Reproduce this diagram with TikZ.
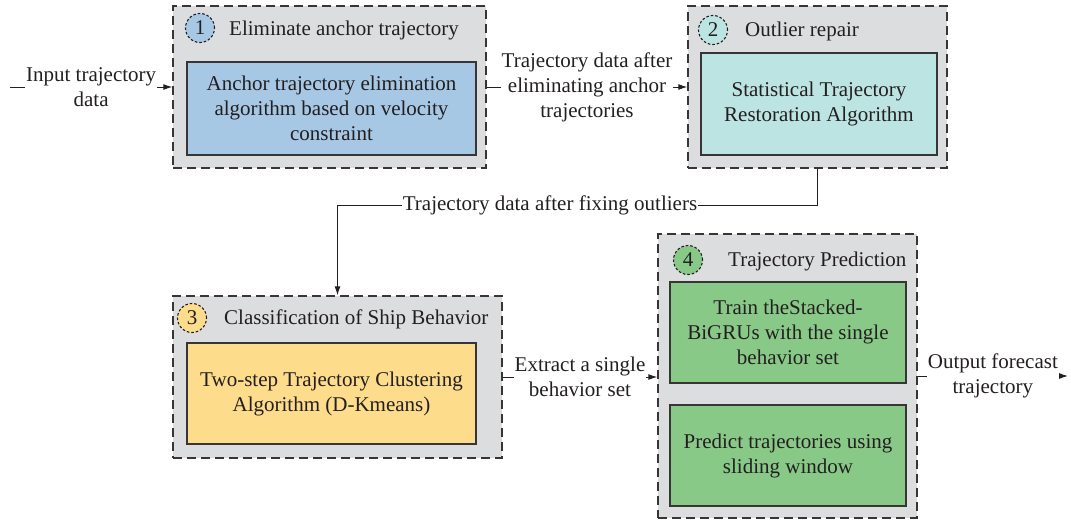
\documentclass[tikz,border=0pt]{standalone}
\usepackage{fontspec}
\setmainfont{Liberation Serif}
\usetikzlibrary{arrows.meta}
\definecolor{ink}{HTML}{231F20}
\definecolor{panel}{HTML}{DCDDDF}
\definecolor{cblue}{HTML}{A7C8E4}
\definecolor{ccyan}{HTML}{BCE4E2}
\definecolor{cyellow}{HTML}{FDDC8C}
\definecolor{cgreen}{HTML}{88C988}
\tikzset{
  every node/.style={font=\fontsize{21}{25}\selectfont, text=ink},
  stage/.style={draw=ink!90, fill=panel, line width=1.4pt,
    dash pattern=on 9pt off 5pt, inner sep=0pt},
  algo/.style={draw=ink!90, line width=1.4pt, inner sep=0pt, align=center},
  badge/.style={circle, draw=ink, dash pattern=on 2.5pt off 2pt, line width=1.1pt,
    minimum size=29pt, inner sep=0pt},
  title/.style={anchor=base west, inner sep=0pt},
  lab/.style={fill=white, inner sep=1pt, align=center},
  arr/.style={draw=ink, line width=1pt, -{Latex[length=9pt,width=6pt]}},
}
\begin{document}
\begin{tikzpicture}[x=1pt,y=-1pt]
\useasboundingbox (0,0) rectangle (1071,522);

% stage panels
\node[stage, minimum width=313, minimum height=162] (g1) at (329.5,87) {};
\node[stage, minimum width=259, minimum height=162] (g2) at (817.5,87) {};
\node[stage, minimum width=329, minimum height=162] (g3) at (337.5,377) {};
\node[stage, minimum width=259, minimum height=284] (g4) at (787.5,376) {};

% algorithm blocks
\node[algo, fill=cblue, minimum width=289, minimum height=93] (b1) at (331.5,108.5)
  {Anchor trajectory elimination\\algorithm based on velocity\\constraint};
\node[algo, fill=ccyan, minimum width=236, minimum height=102] (b2) at (819,104)
  {Statistical Trajectory\\Restoration Algorithm};
\node[algo, fill=cyellow, minimum width=289, minimum height=101] (b3) at (331.5,393.5)
  {Two-step Trajectory Clustering\\Algorithm (D-Kmeans)};
\node[algo, fill=cgreen, minimum width=236, minimum height=101] (b4a) at (788,332.5)
  {Train theStacked-\\BiGRUs with the single\\behavior set};
\node[algo, fill=cgreen, minimum width=236, minimum height=101] (b4b) at (788,455.5)
  {Predict trajectories using\\sliding window};

% numbered badges and stage titles
\node[badge, fill=cblue] (c1) at (200,28) {1};
\node[title] (t1) at (229,35) {Eliminate anchor trajectory};
\node[badge, fill=ccyan] (c2) at (713,30) {2};
\node[title] (t2) at (745,36) {Outlier repair};
\node[badge, fill=cyellow] (c3) at (192,318) {3};
\node[title] (t3) at (224,324) {Classification of Ship Behavior};
\node[badge, fill=cgreen] (c4) at (688,260) {4};
\node[title] (t4) at (728,266) {Trajectory Prediction};

% data flow
\coordinate (in) at (10,87);
\coordinate (out) at (1068,376);
\draw[arr] (in) -- node[lab] {Input trajectory\\data} (g1.west);
\draw[arr] (g1.east) -- node[lab] {Trajectory data after\\eliminating anchor\\trajectories} (g2.west);
\draw[arr] (g2.south) -- ++(0,37) coordinate (bend) -| (g3.north);
\node[lab] (l23) at (550,205) {Trajectory data after fixing outliers};
\draw[arr] (g3.east) -- node[lab] {Extract a single\\behavior set} (g3.east -| g4.west);
\draw[arr] (g4.east) -- node[lab] {Output forecast\\trajectory} (out);
\end{tikzpicture}
\end{document}
